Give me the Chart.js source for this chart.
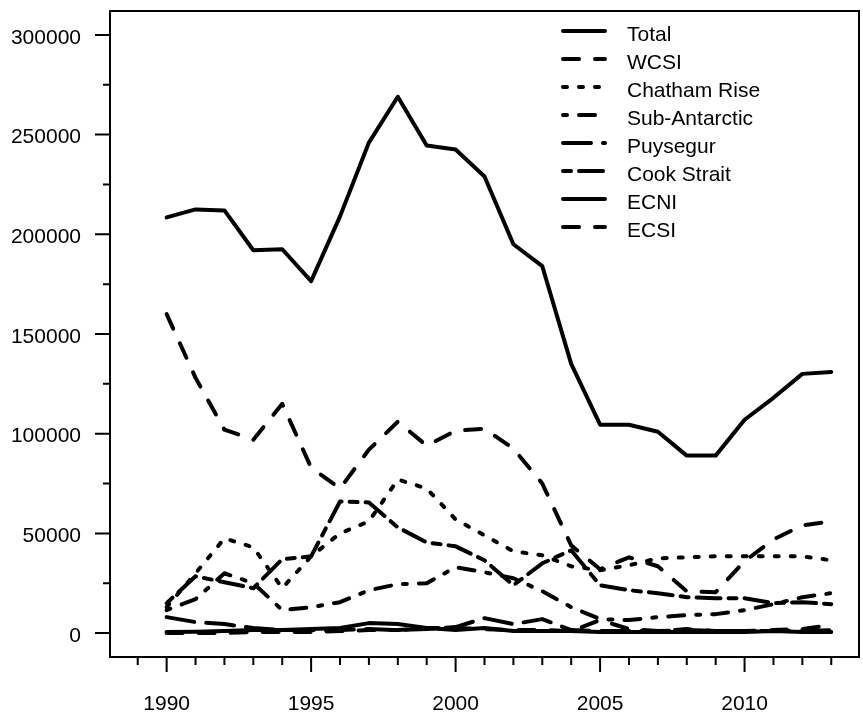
<!DOCTYPE html>
<html>
<head>
<meta charset="utf-8">
<script src="https://cdn.jsdelivr.net/npm/chart.js@4.4.1/dist/chart.umd.min.js"></script>
<style>
  html, body { margin: 0; padding: 0; background: #fff; }
  #wrap { width: 863px; height: 720px; }
</style>
</head>
<body>
<div id="wrap"><canvas id="chart" width="863" height="720"></canvas></div>
<script>
// catch by area
const years = [1990, 1991, 1992, 1993, 1994, 1995, 1996, 1997, 1998, 1999, 2000, 2001,
  2002, 2003, 2004, 2005, 2006, 2007, 2008, 2009, 2010, 2011, 2012, 2013];

const total = [208500, 212500, 212000, 192000, 192500, 176500, 209000, 246000, 269000, 244500, 242500, 229000,
  195000, 184000, 135000, 104500, 104500, 101000, 89000, 89000, 107000, 118000, 130000, 131000];
const wcsi = [160000, 128000, 102000, 97000, 115000, 83000, 72500, 92000, 106000, 94000, 101500, 102500,
  92500, 75000, 44000, 32000, 38000, 33500, 21000, 20500, 36000, 47000, 54000, 56000];
const chathamRise = [13000, 30000, 47500, 43000, 22500, 38500, 50000, 56000, 77000, 72500, 57000, 49000,
  41000, 39000, 33500, 31500, 34000, 37500, 38000, 38500, 38500, 38500, 38500, 36500];
const subAntarctic = [11500, 17000, 30000, 25000, 11500, 13000, 15500, 21500, 24500, 25000, 33000, 30500,
  27500, 21000, 13000, 7000, 6500, 8000, 9000, 9500, 11500, 14500, 18000, 20000];
const puysegur = [8000, 5500, 4500, 2500, 1500, 1500, 1500, 2000, 1500, 2000, 3000, 7500,
  4500, 7000, 1500, 1000, 1000, 1000, 1500, 1000, 1000, 1000, 1000, 1500];
const cookStrait = [15000, 28500, 25500, 22500, 37000, 38500, 66000, 65500, 53000, 45500, 43500, 36500,
  24000, 35000, 41500, 24000, 21500, 20000, 18000, 17500, 17500, 15000, 15500, 14500];
const ecni = [500, 700, 1000, 1500, 1500, 2000, 2500, 5000, 4500, 2500, 1500, 2500,
  1000, 1000, 1000, 500, 500, 500, 500, 500, 500, 1000, 500, 500];
const ecsi = [0, 0, 0, 500, 500, 500, 1000, 1500, 1500, 2500, 2500, 2000,
  1500, 1500, 1000, 6500, 2000, 1000, 2000, 1000, 1000, 1500, 2000, 4000];

const seriesNames = ["Total", "WCSI", "Chatham Rise", "Sub-Antarctic", "Puysegur", "Cook Strait", "ECNI", "ECSI"];
const seriesValues = [total, wcsi, chathamRise, subAntarctic, puysegur, cookStrait, ecni, ecsi];

const yTicks = [0, 50000, 100000, 150000, 200000, 250000, 300000];
const yMinorTicks = [25000, 75000, 125000, 175000, 225000, 275000];
const xTicks = [1990, 1995, 2000, 2005, 2010];
const xMinorTicks = [1989, 1990, 1991, 1992, 1993, 1994, 1995, 1996, 1997, 1998, 1999, 2000, 2001,
  2002, 2003, 2004, 2005, 2006, 2007, 2008, 2009, 2010, 2011, 2012, 2013];

// R style line types, lwd 4
const lineDashes = [[], [16, 16], [4, 12], [4, 12, 16, 12], [28, 12], [8, 8, 24, 8], [], [16, 16]];

const FONT = '"Liberation Sans", Arial, sans-serif';

const frameAndTicks = {
  id: "frameAndTicks",
  afterDraw(chart) {
    const { ctx, chartArea, scales } = chart;
    ctx.save();
    ctx.strokeStyle = "#000";
    ctx.lineWidth = 2;
    ctx.setLineDash([]);
    ctx.strokeRect(chartArea.left, chartArea.top, chartArea.right - chartArea.left, chartArea.bottom - chartArea.top);

    ctx.beginPath();
    yTicks.forEach(v => {
      const y = scales.y.getPixelForValue(v);
      ctx.moveTo(chartArea.left - 15, y);
      ctx.lineTo(chartArea.left, y);
    });
    yMinorTicks.forEach(v => {
      const y = scales.y.getPixelForValue(v);
      ctx.moveTo(chartArea.left - 7, y);
      ctx.lineTo(chartArea.left, y);
    });
    xMinorTicks.forEach(v => {
      const x = scales.x.getPixelForValue(v);
      ctx.moveTo(x, chartArea.bottom);
      ctx.lineTo(x, chartArea.bottom + 8);
    });
    xTicks.forEach(v => {
      const x = scales.x.getPixelForValue(v);
      ctx.moveTo(x, chartArea.bottom);
      ctx.lineTo(x, chartArea.bottom + 15);
    });
    ctx.stroke();
    ctx.restore();
  }
};

const rLegend = {
  id: "rLegend",
  afterDraw(chart) {
    const ctx = chart.ctx;
    ctx.save();
    chart.data.datasets.forEach((ds, i) => {
      const y = 31 + i * 28;
      ctx.strokeStyle = "#000";
      ctx.lineWidth = 4;
      ctx.lineCap = "round";
      ctx.setLineDash(ds.borderDash);
      ctx.beginPath();
      ctx.moveTo(563, y);
      ctx.lineTo(605, y);
      ctx.stroke();
      ctx.setLineDash([]);
      ctx.fillStyle = "#000";
      ctx.font = "21px " + FONT;
      ctx.textBaseline = "alphabetic";
      ctx.fillText(ds.label, 627, y + 9.5);
    });
    ctx.restore();
  }
};

const ctx = document.getElementById("chart").getContext("2d");

new Chart(ctx, {
  type: "line",
  data: {
    datasets: seriesNames.map((name, i) => ({
      label: name,
      data: years.map((yr, j) => ({ x: yr, y: seriesValues[i][j] })),
      borderColor: "#000",
      borderWidth: 4,
      borderDash: lineDashes[i],
      borderCapStyle: "round",
      borderJoinStyle: "round",
      pointRadius: 0,
      tension: 0,
      fill: false
    }))
  },
  options: {
    responsive: false,
    animation: false,
    devicePixelRatio: 1,
    layout: { padding: { top: 11, right: 4, left: 0, bottom: 0 } },
    plugins: {
      legend: { display: false },
      tooltip: { enabled: false }
    },
    scales: {
      x: {
        type: "linear",
        min: 1988.04,
        max: 2013.96,
        afterBuildTicks: scale => { scale.ticks = xTicks.map(v => ({ value: v })); },
        afterFit: scale => {
          scale.height = 63;
          scale.paddingLeft = 0;
          scale.paddingRight = 0;
        },
        grid: { display: false, drawTicks: false },
        border: { display: false },
        ticks: {
          autoSkip: false,
          maxRotation: 0,
          padding: 35,
          color: "#000",
          font: { family: FONT, size: 21 },
          callback: v => String(v)
        }
      },
      y: {
        type: "linear",
        min: -12000,
        max: 312000,
        afterBuildTicks: scale => { scale.ticks = yTicks.map(v => ({ value: v })); },
        afterFit: scale => {
          scale.width = 110;
          scale.paddingTop = 0;
          scale.paddingBottom = 0;
        },
        grid: { display: false, drawTicks: false },
        border: { display: false },
        ticks: {
          padding: 29,
          labelOffset: 3,
          color: "#000",
          font: { family: FONT, size: 21 },
          callback: v => String(v)
        }
      }
    }
  },
  plugins: [frameAndTicks, rLegend]
});
</script>
</body>
</html>
